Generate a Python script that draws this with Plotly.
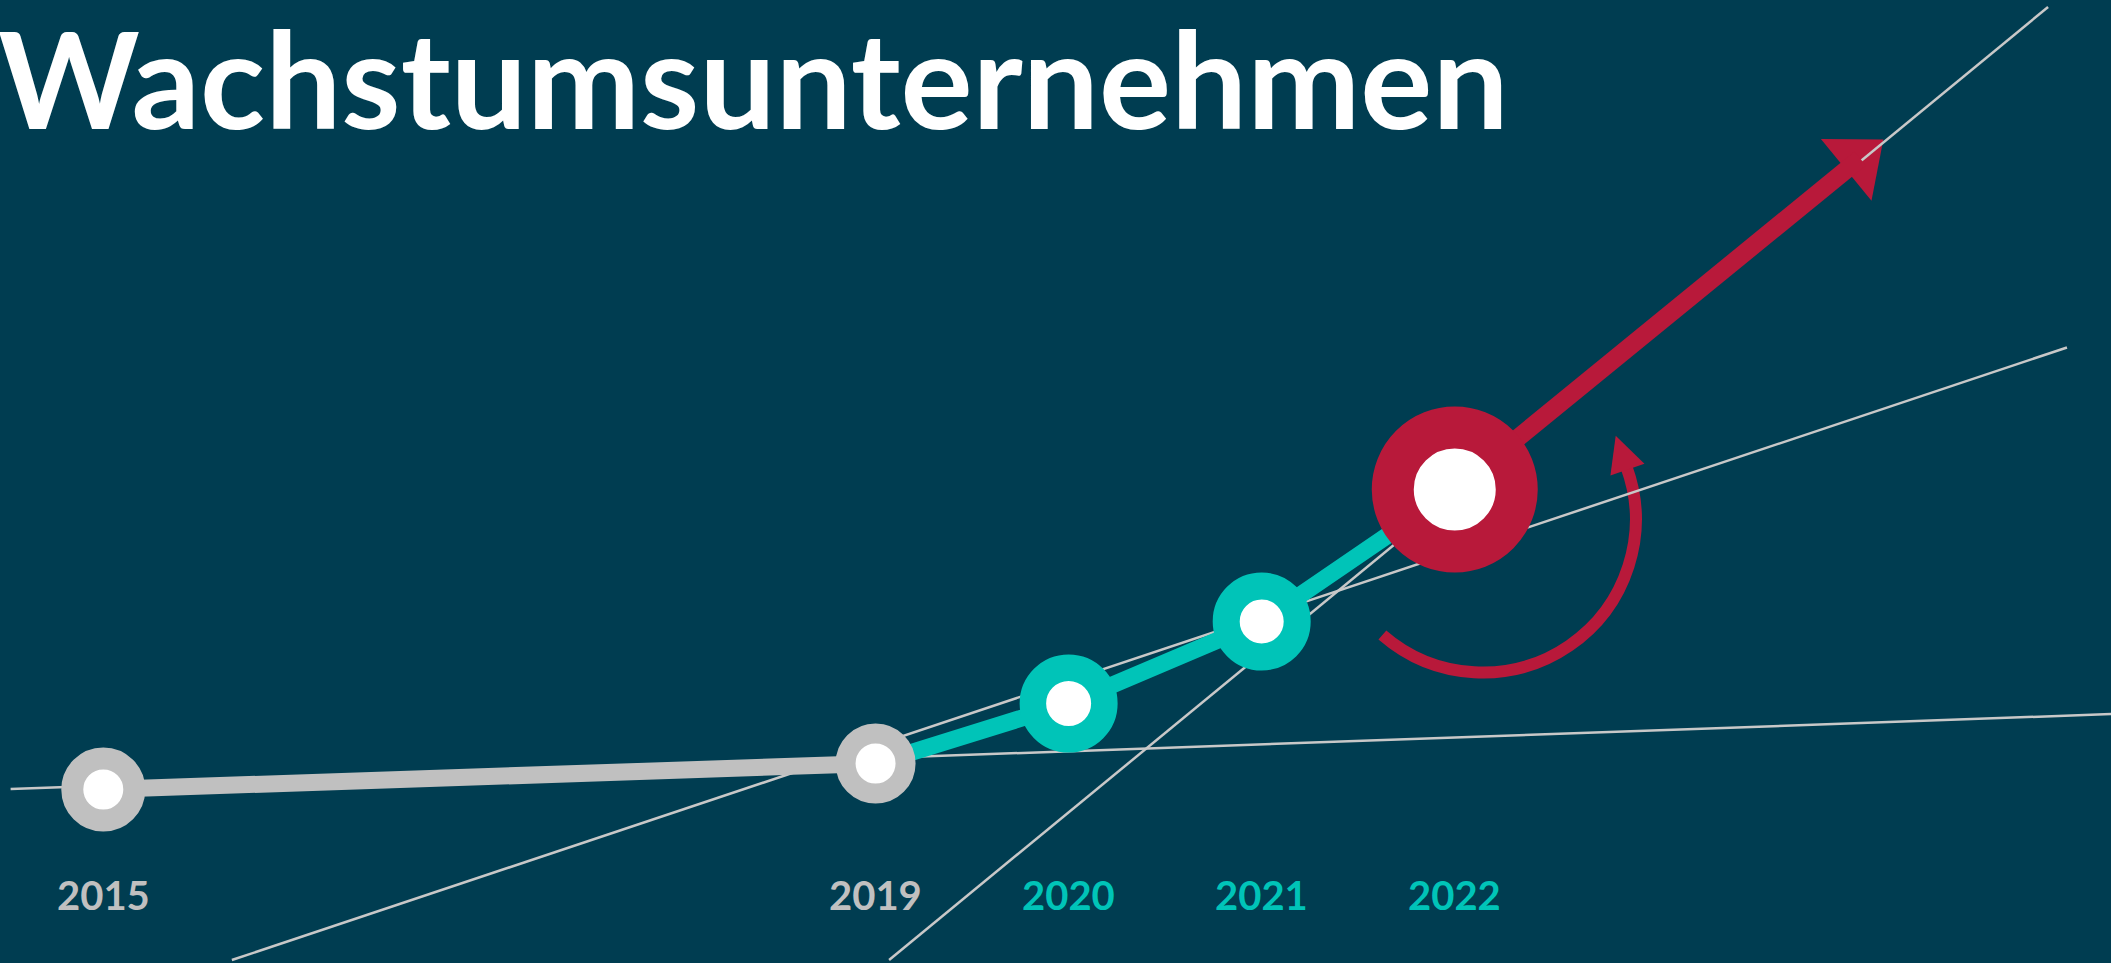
import numpy as np
import plotly.graph_objects as go

# ---------------- data ----------------
years = [2015, 2019, 2020, 2021, 2022]
values = [100, 113, 143, 184, 250]          # relative growth index
year_labels = ["2015", "2019", "2020", "2021", "2022"]

# projected direction of the big arrow (beyond 2022)
arrow_target_x = 2024.22
arrow_target_y = 425

# thin guide (trend) lines, start/end in data units
guide1_x = [2014.52, 2025.6]
guide1_y = [100.25, 138.4]
guide2_x = [2015.666, 2025.171]
guide2_y = [14.75, 321.0]
guide3_x = [2019.07, 2025.073]
guide3_y = [14.75, 491.25]

title_text = "Wachstumsunternehmen"

# ---------------- style ----------------
W, H = 2111, 963
BG = "#003D51"
GRAY = "#C0C0C0"
THIN = "#C8C8C8"
TEAL = "#00C4B8"
RED = "#B8193A"
WHITE = "#FFFFFF"
FONT = "Lato"

X_RANGE = [2014.465, 2025.399]
Y_RANGE = [13.25, 494.75]
PX_X = W / (X_RANGE[1] - X_RANGE[0])
PX_Y = H / (Y_RANGE[1] - Y_RANGE[0])

ring_colors = [GRAY, GRAY, TEAL, TEAL, RED]
label_colors = [GRAY, GRAY, TEAL, TEAL, TEAL]
marker_sizes = [62, 60, 71.5, 71, 124]
ring_widths = [22, 20, 26.5, 27, 42]

fig = go.Figure()

# thin guide lines
for gx, gy in [(guide1_x, guide1_y), (guide2_x, guide2_y), (guide3_x, guide3_y)]:
    fig.add_trace(go.Scatter(x=gx, y=gy, mode="lines",
                             line=dict(color=THIN, width=2.5),
                             hoverinfo="skip"))

# historic segment (gray)
fig.add_trace(go.Scatter(x=years[:2], y=values[:2], mode="lines",
                         line=dict(color=GRAY, width=17), hoverinfo="skip"))
# growth segment (teal)
fig.add_trace(go.Scatter(x=years[1:], y=values[1:], mode="lines",
                         line=dict(color=TEAL, width=17), hoverinfo="skip"))

# big red arrow shaft (ends inside the arrow head)
dxp = (arrow_target_x - years[-1]) * PX_X
dyp = (arrow_target_y - values[-1]) * PX_Y
L = np.hypot(dxp, dyp)
ux, uy = dxp / L, dyp / L
inset = 30
shaft_end_x = arrow_target_x - inset * ux / PX_X
shaft_end_y = arrow_target_y - inset * uy / PX_Y
fig.add_trace(go.Scatter(x=[years[-1], shaft_end_x], y=[values[-1], shaft_end_y],
                         mode="lines", line=dict(color=RED, width=18),
                         hoverinfo="skip"))

# markers (rings with white centres)
fig.add_trace(go.Scatter(x=years, y=values, mode="markers",
                         marker=dict(size=marker_sizes, color=WHITE,
                                     line=dict(color=ring_colors, width=ring_widths),
                                     opacity=1),
                         hoverinfo="skip"))

shapes = []
# big arrow head (pixel offsets anchored at the target)
head_len, head_half = 48, 40
nx, ny = -uy, ux
bmx, bmy = -head_len * ux, -head_len * uy
tri = [(0, 0), (bmx + head_half * nx, bmy + head_half * ny),
       (bmx - head_half * nx, bmy - head_half * ny)]
shapes.append(dict(type="path", xref="x", yref="y", xsizemode="pixel", ysizemode="pixel",
                   xanchor=arrow_target_x, yanchor=arrow_target_y,
                   path="M{:.2f},{:.2f} L{:.2f},{:.2f} L{:.2f},{:.2f} Z".format(*tri[0], *tri[1], *tri[2]),
                   fillcolor=RED, line=dict(width=0), layer="below"))

# curved arrow around the 2022 point (pixel offsets anchored at 2022)
acx, acy, ar = 28, -30, 153
a0, a1 = 229.0, 380.0
nseg = 4
da = (a1 - a0) / nseg
k = 4.0 / 3.0 * np.tan(np.radians(da) / 4.0) * ar
t = np.radians(a0)
path = "M{:.2f},{:.2f}".format(acx + ar * np.cos(t), acy + ar * np.sin(t))
for i in range(nseg):
    t0 = np.radians(a0 + i * da)
    t1 = np.radians(a0 + (i + 1) * da)
    p0 = (acx + ar * np.cos(t0), acy + ar * np.sin(t0))
    p3 = (acx + ar * np.cos(t1), acy + ar * np.sin(t1))
    c1 = (p0[0] - k * np.sin(t0), p0[1] + k * np.cos(t0))
    c2 = (p3[0] + k * np.sin(t1), p3[1] - k * np.cos(t1))
    path += " C{:.2f},{:.2f} {:.2f},{:.2f} {:.2f},{:.2f}".format(*c1, *c2, *p3)
shapes.append(dict(type="path", xref="x", yref="y", xsizemode="pixel", ysizemode="pixel",
                   xanchor=years[-1], yanchor=values[-1], path=path,
                   line=dict(color=RED, width=12), fillcolor="rgba(0,0,0,0)", layer="below"))

# head of curved arrow
th = np.radians(19.0)
mx, my = acx + ar * np.cos(th), acy + ar * np.sin(th)
tx, ty = -np.sin(th), np.cos(th)
rx, ry = np.cos(th), np.sin(th)
ch_len, ch_half = 36, 18
ctri = [(mx + ch_len * tx, my + ch_len * ty),
        (mx + ch_half * rx, my + ch_half * ry),
        (mx - ch_half * rx, my - ch_half * ry)]
shapes.append(dict(type="path", xref="x", yref="y", xsizemode="pixel", ysizemode="pixel",
                   xanchor=years[-1], yanchor=values[-1],
                   path="M{:.2f},{:.2f} L{:.2f},{:.2f} L{:.2f},{:.2f} Z".format(*ctri[0], *ctri[1], *ctri[2]),
                   fillcolor=RED, line=dict(width=0), layer="below"))

annotations = []
for yr, lab, col in zip(years, year_labels, label_colors):
    annotations.append(dict(x=yr, y=0.0711, xref="x", yref="paper", text="<b>%s</b>" % lab,
                            showarrow=False, xanchor="center", yanchor="middle",
                            font=dict(family=FONT, size=40, color=col)))

annotations.append(dict(x=0, y=1, xref="paper", yref="paper", text="<b>%s</b>" % title_text,
                        showarrow=False, xanchor="left", yanchor="top", xshift=-4, yshift=6,
                        font=dict(family=FONT, size=135, color=WHITE)))

fig.update_layout(
    width=W, height=H,
    margin=dict(l=0, r=0, t=0, b=0),
    paper_bgcolor=BG, plot_bgcolor=BG,
    showlegend=False,
    xaxis=dict(range=X_RANGE, visible=False, showgrid=False, zeroline=False, fixedrange=True),
    yaxis=dict(range=Y_RANGE, visible=False, showgrid=False, zeroline=False, fixedrange=True),
    shapes=shapes,
    annotations=annotations,
    hovermode=False,
)

fig.write_html("out.html", config={"displayModeBar": False},
               post_script="document.body.style.margin='0px';document.body.style.background='%s';" % BG)
